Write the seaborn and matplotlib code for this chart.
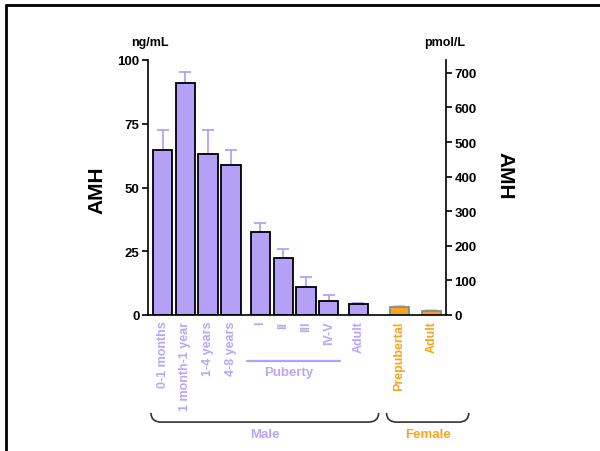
import numpy as np
import pandas as pd
import seaborn as sns
import matplotlib.pyplot as plt
from matplotlib.path import Path
from matplotlib.patches import PathPatch
from matplotlib.lines import Line2D
import matplotlib.transforms as mtransforms

# --- data (ng/mL, mean and upper error) ---
groups = ["0-1 months", "1 month-1 year", "1-4 years", "4-8 years",
          "I", "II", "III", "IV-V", "Adult", "Prepubertal", "Adult"]
sex = ["Male"] * 9 + ["Female"] * 2
amh = [64.8, 91.1, 63.3, 58.7, 32.7, 22.2, 10.9, 5.6, 4.3, 3.0, 1.6]
err = [7.6, 4.1, 9.4, 6.0, 3.5, 3.6, 4.0, 2.4, 0.5, 0.4, 0.4]
NG_TO_PMOL = 7.37  # scale of the right axis as drawn in the figure

# layout: bar positions with gaps between blocks
xpos = [0, 1, 2, 3, 4.3, 5.3, 6.3, 7.3, 8.6, 10.4, 11.8]

MALE = "#B5A0F8"
MALE_TXT = "#B9A6F6"
FEMALE = "#F7A51E"
FEMALE_TXT = "#F8A41E"

df = pd.DataFrame({"pos": xpos, "amh": amh, "err": err, "sex": sex, "label": groups})

sns.set_style("ticks")
plt.rcParams["font.family"] = ["Liberation Sans", "DejaVu Sans"]
plt.rcParams["font.weight"] = "bold"
for k in ["text.color", "xtick.color", "ytick.color", "axes.labelcolor", "axes.edgecolor"]:
    plt.rcParams[k] = "black"

fig = plt.figure(figsize=(6, 4.52), dpi=100)
ax = fig.add_axes([148 / 600, 1 - 316 / 452, 298 / 600, 255 / 452])

sns.barplot(data=df, x="pos", y="amh", hue="sex",
            palette={"Male": MALE, "Female": FEMALE}, saturation=1,
            native_scale=True, dodge=False, width=0.85, errorbar=None,
            legend=False, edgecolor="black", linewidth=1.3, ax=ax)

# female bars get a grey outline
for p in ax.patches:
    if p.get_facecolor()[0] > 0.9:
        p.set_edgecolor("#8A8A8A")

for s, c in [("Male", MALE), ("Female", "#F6BCC4")]:
    d = df[df.sex == s]
    ax.errorbar(d.pos, d.amh, yerr=[np.zeros(len(d)), d.err], fmt="none",
                ecolor=c, elinewidth=1.3, capsize=4, capthick=1.3, zorder=0.5)

ax.set_xlim(-0.64, 12.45)
ax.set_ylim(0, 100)
ax.set_yticks([0, 25, 50, 75, 100])
ax.set_xticks(xpos)
ax.set_xticklabels(groups, rotation=90, fontsize=9, fontweight="bold")
for t, s in zip(ax.get_xticklabels(), sex):
    t.set_color(MALE_TXT if s == "Male" else FEMALE_TXT)
ax.tick_params(axis="x", length=0, pad=4)
ax.tick_params(axis="y", length=4, width=1.2, labelsize=9.5, pad=2)
for t in ax.get_yticklabels():
    t.set_fontweight("bold")
ax.set_xlabel("")
ax.set_ylabel("")
ax.spines["top"].set_visible(False)
ax.spines["right"].set_visible(False)
for sp in ["left", "bottom"]:
    ax.spines[sp].set_linewidth(1.2)

ax2 = ax.twinx()
ax2.set_ylim(0, 100 * NG_TO_PMOL)
ax2.set_yticks(range(0, 701, 100))
ax2.tick_params(axis="y", length=4, width=1.2, labelsize=9.5, pad=2)
for t in ax2.get_yticklabels():
    t.set_fontweight("bold")
for sp in ["top", "left", "bottom"]:
    ax2.spines[sp].set_visible(False)
ax2.spines["right"].set_linewidth(1.2)

# units and axis titles
fig.text(150 / 600, 1 - 43 / 452, "ng/mL", ha="center", va="center", fontsize=9, fontweight="bold")
fig.text(445 / 600, 1 - 43 / 452, "pmol/L", ha="center", va="center", fontsize=9, fontweight="bold")
fig.text(97 / 600, 1 - 190 / 452, "AMH", rotation=90, ha="center", va="center", fontsize=15, fontweight="heavy")
fig.text(505 / 600, 1 - 176 / 452, "AMH", rotation=270, ha="center", va="center", fontsize=15, fontweight="heavy")

# puberty underline
trans = mtransforms.blended_transform_factory(ax.transData, ax.transAxes)
ax.add_line(Line2D([3.72, 7.78], [-0.18, -0.18], transform=trans, color=MALE, lw=1.6, clip_on=False))
ax.text(5.55, -0.222, "Puberty", transform=trans, ha="center", va="center",
        color=MALE_TXT, fontsize=9.5, fontweight="bold", clip_on=False)


def bracket(x0, x1, ytop=-0.384, ybot=-0.42, r=0.45):
    verts = [(x0, ytop), (x0, ybot), (x0 + r, ybot), (x1 - r, ybot), (x1, ybot), (x1, ytop)]
    codes = [Path.MOVETO, Path.CURVE3, Path.CURVE3, Path.LINETO, Path.CURVE3, Path.CURVE3]
    ax.add_patch(PathPatch(Path(verts, codes), transform=trans, fill=False,
                           edgecolor="#333333", lw=1.2, clip_on=False))


bracket(-0.51, 9.49)
bracket(9.84, 13.45)
ax.text(4.5, -0.467, "Male", transform=trans, ha="center", va="center",
        color=MALE_TXT, fontsize=9.5, fontweight="bold", clip_on=False)
ax.text(11.65, -0.467, "Female", transform=trans, ha="center", va="center",
        color=FEMALE_TXT, fontsize=9.5, fontweight="bold", clip_on=False)

# frame lines along top and left edge
fig.add_artist(Line2D([6 / 600, 1], [1 - 6 / 452, 1 - 6 / 452], transform=fig.transFigure, color="black", lw=2))
fig.add_artist(Line2D([6 / 600, 6 / 600], [0, 1 - 6 / 452], transform=fig.transFigure, color="black", lw=2))

fig.savefig("out.png", dpi=100)
